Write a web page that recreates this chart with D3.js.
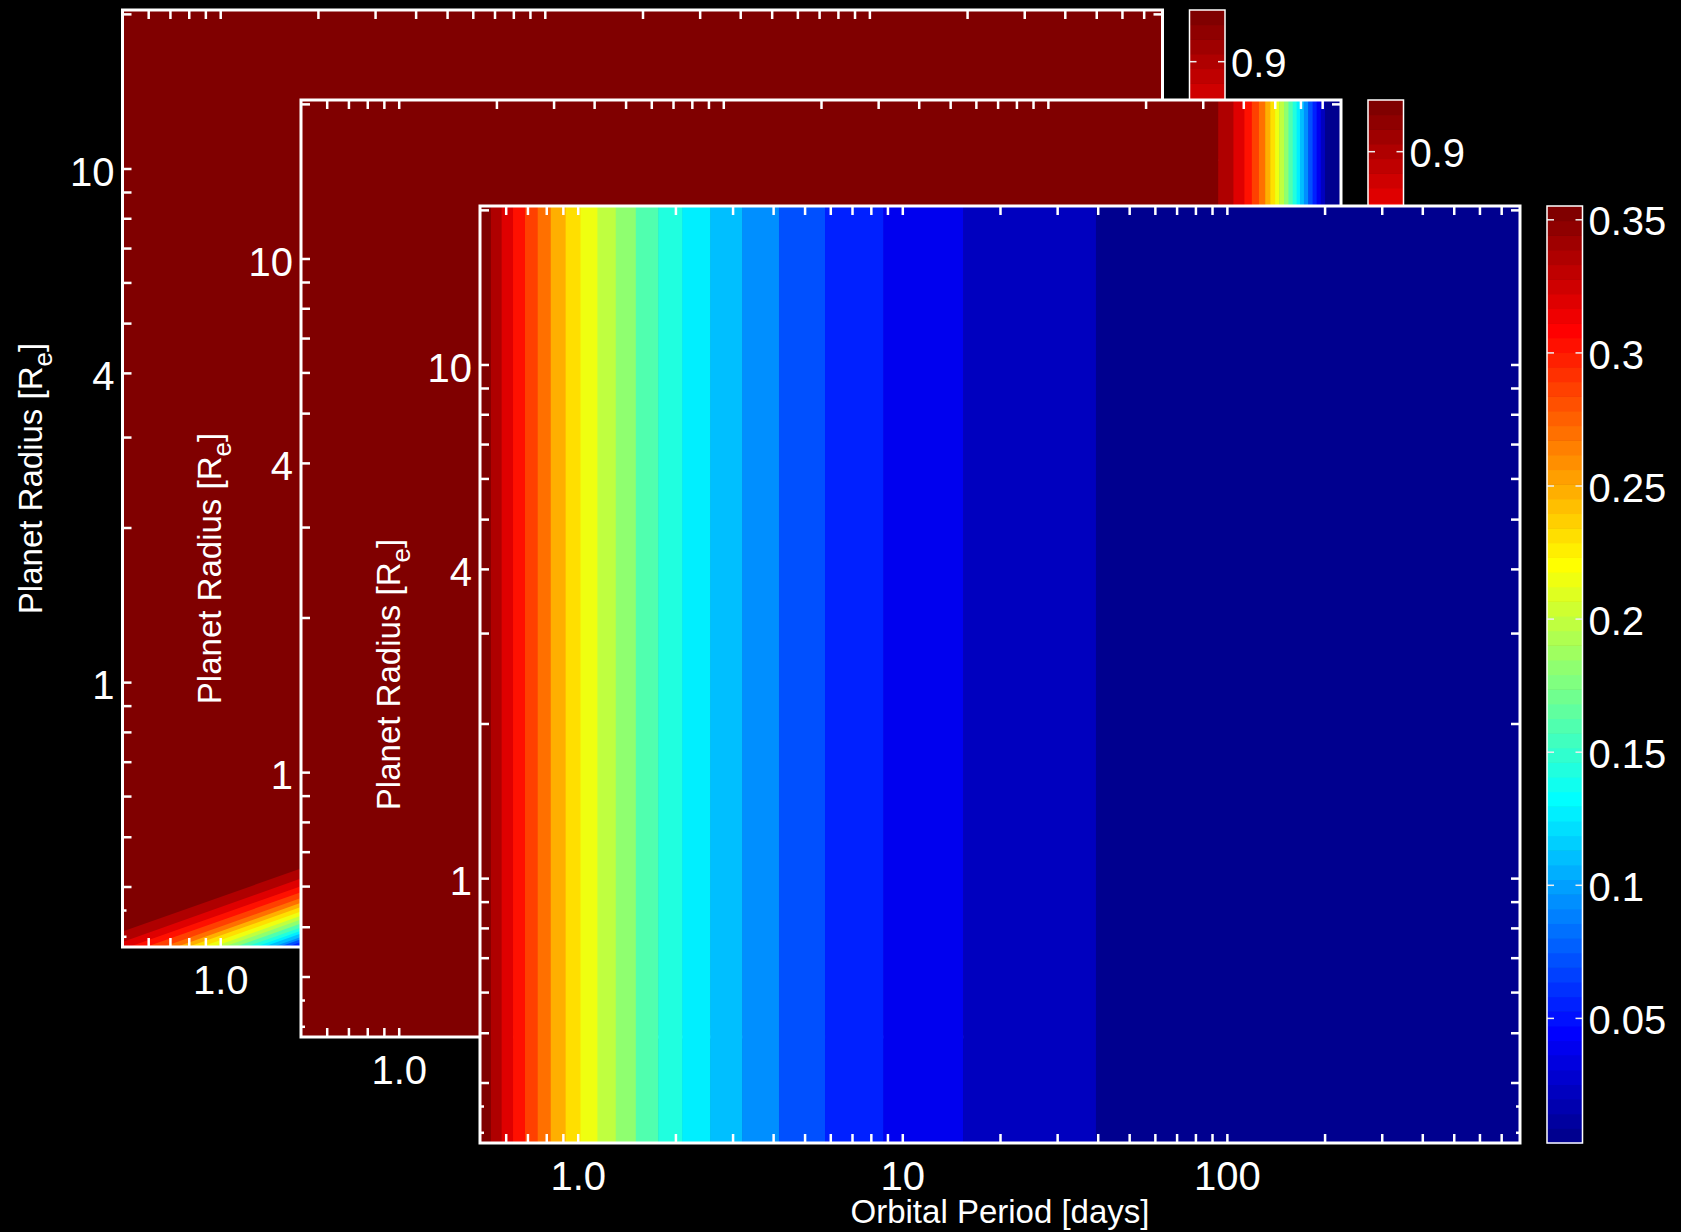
<!DOCTYPE html>
<html>
<head>
<meta charset="utf-8">
<script src="https://cdn.jsdelivr.net/npm/d3@7"></script>
<style>
  html, body { margin: 0; padding: 0; background: #000; }
  svg { display: block; }
</style>
</head>
<body>
<svg id="chart" width="1681" height="1232"></svg>
<script>
// ---------------- data ----------------
// shared axes
const periodDomain = [0.5, 800];
const radiusDomain = [0.305, 20.35];
const periodTickValues = [1, 10, 100];
const periodTickLabels = ["1.0", "10", "100"];
const periodMinorTicks = [0.6, 0.7, 0.8, 0.9, 2, 3, 4, 5, 6, 7, 8, 9,
  20, 30, 40, 50, 60, 70, 80, 90, 200, 300, 400, 500, 600, 700];
const radiusTickValues = [1, 4, 10];
const radiusTickLabels = ["1", "4", "10"];
const radiusMinorTicks = [0.4, 0.5, 0.6, 0.7, 0.8, 0.9, 2, 3, 5, 6, 7, 8, 9, 20];
const radiusShortTicks = [0.32, 0.36];

// detection efficiency (back panel): filled contours, straight in log-log,
// each boundary given by its radius at the two periods below
const detectionContourPeriods = [0.5, 1.8];
const detectionRadiusAtShort = [0.327, 0.312, 0.302, 0.294, 0.286, 0.280, 0.275, 0.269, 0.264,
  0.260, 0.255, 0.251, 0.247, 0.244, 0.241, 0.238, 0.235];
const detectionRadiusAtLong = [0.435, 0.416, 0.402, 0.391, 0.381, 0.373, 0.366, 0.359, 0.352,
  0.346, 0.340, 0.334, 0.329, 0.325, 0.320, 0.317, 0.313];
const detectionBandValues = [0.952, 0.9044, 0.8568, 0.8092, 0.7616, 0.714, 0.6664, 0.6188, 0.5712,
  0.5236, 0.476, 0.4284, 0.3808, 0.3332, 0.2856, 0.238, 0.1904, 0.1428];
const detectionRange = [0, 0.952];

// window function (middle panel): bands in orbital period only
const windowBandEdges = [335, 373, 403, 425, 447, 467, 484, 501, 516, 534, 551, 568, 584, 598,
  615, 634, 654, 673, 693, 714];
const windowBandValues = [0.952, 0.9044, 0.8568, 0.8092, 0.7616, 0.714, 0.6664, 0.6188, 0.5712,
  0.5236, 0.476, 0.4284, 0.3808, 0.3332, 0.2856, 0.238, 0.1904, 0.1428, 0.0952, 0.0476, 0];
const windowRange = [0, 0.952];

// geometric transit probability (front panel): bands in orbital period only
const transitBandEdges = [0.54, 0.583, 0.632, 0.688, 0.753, 0.826, 0.918, 1.02, 1.15, 1.31, 1.51,
  1.77, 2.10, 2.56, 3.21, 4.17, 5.78, 8.74, 15.4, 39.5];
const transitBandValues = [0.355, 0.3374, 0.3198, 0.3022, 0.2846, 0.2670, 0.2494, 0.2318, 0.2142,
  0.1966, 0.1790, 0.1614, 0.1438, 0.1262, 0.1086, 0.0910, 0.0734, 0.0558, 0.0382, 0.0206, 0.0030];
const transitRange = [0.003, 0.355];

// colour bar ticks
const efficiencyBarTicks = [0.1, 0.2, 0.3, 0.4, 0.5, 0.6, 0.7, 0.8, 0.9];
const efficiencyBarLabels = ["0.1", "0.2", "0.3", "0.4", "0.5", "0.6", "0.7", "0.8", "0.9"];
const transitBarTicks = [0.05, 0.1, 0.15, 0.2, 0.25, 0.3, 0.35];
const transitBarLabels = ["0.05", "0.1", "0.15", "0.2", "0.25", "0.3", "0.35"];

// ---------------- layout ----------------
const W = 1040, H = 937;
const TICK = 9;
const FONT = "'Liberation Sans', Arial, Helvetica, sans-serif";
const BAR_OFFSET = 1067, BAR_W = 35.5, BAR_STEPS = 64;

// 64-entry jet colour table
function jetTable(m) {
  const n = Math.ceil(m / 4);
  const u = [];
  for (let i = 1; i <= n; i++) u.push(i / n);
  for (let i = 0; i < n - 1; i++) u.push(1);
  for (let i = n; i >= 1; i--) u.push(i / n);
  const gOff = Math.ceil(n / 2) - (m % 4 === 1 ? 1 : 0);
  const J = Array.from({length: m}, () => [0, 0, 0]);
  u.forEach((val, j) => {
    const g = gOff + j + 1, r = g + n, b = g - n;
    if (g >= 1 && g <= m) J[g - 1][1] = val;
    if (r >= 1 && r <= m) J[r - 1][0] = val;
    if (b >= 1 && b <= m) J[b - 1][2] = val;
  });
  return J.map(c => d3.rgb(Math.round(c[0] * 255), Math.round(c[1] * 255), Math.round(c[2] * 255)).formatHex());
}
const jet = jetTable(BAR_STEPS);

const svg = d3.select("#chart");
svg.append("rect").attr("width", 1681).attr("height", 1232).attr("fill", "#000");

// the two rear plots sit behind the next one, so only their uncovered labels are written
const layers = [
  { id: "detection", x0: 122.5, y0: 10, range: detectionRange, front: false,
    barTicks: efficiencyBarTicks, barLabels: efficiencyBarLabels },
  { id: "window", x0: 301, y0: 100, range: windowRange, front: false,
    barTicks: efficiencyBarTicks, barLabels: efficiencyBarLabels },
  { id: "transit", x0: 480, y0: 206, range: transitRange, front: true,
    barTicks: transitBarTicks, barLabels: transitBarLabels }
];

function styleAxis(sel, fontSize) {
  sel.select(".domain").remove();
  sel.selectAll(".tick line").attr("stroke", "#fff").attr("stroke-width", 2.5);
  sel.selectAll(".tick text").attr("fill", "#fff")
    .style("font-family", FONT).style("font-size", fontSize + "px");
}

function drawVerticalBands(g, x, edges, values, color) {
  const bounds = [periodDomain[0], ...edges, periodDomain[1]];
  g.selectAll("rect.band").data(values).join("rect")
    .attr("class", "band")
    .attr("x", (d, i) => x(bounds[i]))
    .attr("y", 0)
    .attr("width", (d, i) => x(bounds[i + 1]) - x(bounds[i]) + 0.6)
    .attr("height", H)
    .attr("fill", d => color(d));
}

function drawContourBands(g, x, y, color) {
  g.append("rect").attr("width", W).attr("height", H).attr("fill", color(detectionBandValues[0]));
  const area = d3.area().x(d => x(d.p)).y0(H).y1(d => y(d.r));
  detectionRadiusAtShort.forEach((r0, k) => {
    const pts = [
      { p: detectionContourPeriods[0], r: r0 },
      { p: detectionContourPeriods[1], r: detectionRadiusAtLong[k] }
    ];
    g.append("path").attr("d", area(pts)).attr("fill", color(detectionBandValues[k + 1]));
  });
}

layers.forEach(L => {
  const g = svg.append("g").attr("transform", `translate(${L.x0},${L.y0})`);
  const x = d3.scaleLog().domain(periodDomain).range([0, W]);
  const y = d3.scaleLog().domain(radiusDomain).range([H, 0]);
  const color = d3.scaleQuantize().domain(L.range).range(jet);

  // plot area
  const clipId = "clip-" + L.id;
  g.append("clipPath").attr("id", clipId).append("rect").attr("width", W).attr("height", H);
  const plot = g.append("g").attr("clip-path", `url(#${clipId})`);
  if (L.id === "detection") drawContourBands(plot, x, y, color);
  if (L.id === "window") drawVerticalBands(plot, x, windowBandEdges, windowBandValues, color);
  if (L.id === "transit") drawVerticalBands(plot, x, transitBandEdges, transitBandValues, color);

  // axes, ticks pointing inward on all four sides
  const allPeriod = periodTickValues.concat(periodMinorTicks);
  const allRadius = radiusTickValues.concat(radiusMinorTicks);
  const periodLabel = d => {
    const i = periodTickValues.indexOf(d);
    if (i < 0) return "";
    return (L.front || d === 1) ? periodTickLabels[i] : "";
  };
  const bottom = g.append("g").attr("transform", `translate(0,${H})`)
    .call(d3.axisBottom(x).tickValues(allPeriod).tickSize(-TICK).tickPadding(19).tickFormat(periodLabel));
  styleAxis(bottom, 40);
  bottom.selectAll(".tick text").filter(function () { return this.textContent === ""; }).remove();
  const top = g.append("g")
    .call(d3.axisTop(x).tickValues(allPeriod).tickSize(-TICK).tickFormat(() => ""));
  styleAxis(top, 40);
  top.selectAll(".tick text").remove();
  const left = g.append("g")
    .call(d3.axisLeft(y).tickValues(allRadius).tickSize(-TICK).tickPadding(8)
      .tickFormat(d => { const i = radiusTickValues.indexOf(d); return i >= 0 ? radiusTickLabels[i] : ""; }));
  styleAxis(left, 40);
  left.selectAll(".tick text").attr("dy", "0.42em");
  left.selectAll(".tick text").filter(function () { return this.textContent === ""; }).remove();
  const right = g.append("g").attr("transform", `translate(${W},0)`)
    .call(d3.axisRight(y).tickValues(allRadius).tickSize(-TICK).tickFormat(() => ""));
  styleAxis(right, 40);
  right.selectAll(".tick text").remove();
  // short ticks near the lower edge
  [g.append("g").call(d3.axisLeft(y).tickValues(radiusShortTicks).tickSize(-4).tickFormat(() => "")),
   g.append("g").attr("transform", `translate(${W},0)`)
     .call(d3.axisRight(y).tickValues(radiusShortTicks).tickSize(-4).tickFormat(() => ""))]
    .forEach(a => { styleAxis(a, 40); a.selectAll(".tick text").remove(); });

  // frame
  g.append("rect").attr("width", W).attr("height", H)
    .attr("fill", "none").attr("stroke", "#fff").attr("stroke-width", 3);

  // axis titles
  const yTitle = g.append("text")
    .attr("transform", `translate(-80.5,${H / 2}) rotate(-90)`)
    .attr("text-anchor", "middle").attr("fill", "#fff")
    .style("font-family", FONT).style("font-size", "33px");
  yTitle.append("tspan").text("Planet Radius [R");
  yTitle.append("tspan").attr("dy", 10).style("font-size", "26px").text("e");
  yTitle.append("tspan").attr("dy", -10).text("]");

  if (L.front) {
    g.append("text")
      .attr("x", W / 2).attr("y", H + 80)
      .attr("text-anchor", "middle").attr("fill", "#fff")
      .style("font-family", FONT).style("font-size", "33px")
      .text("Orbital Period [days]");
  }

  // colour bar
  const cb = g.append("g").attr("transform", `translate(${BAR_OFFSET},0)`);
  const cy = d3.scaleLinear().domain(L.range).range([H, 0]);
  const step = (L.range[1] - L.range[0]) / BAR_STEPS;
  cb.selectAll("rect.step").data(d3.range(BAR_STEPS)).join("rect")
    .attr("class", "step")
    .attr("x", 0).attr("width", BAR_W)
    .attr("y", i => cy(L.range[0] + (i + 1) * step))
    .attr("height", i => cy(L.range[0] + i * step) - cy(L.range[0] + (i + 1) * step) + 0.6)
    .attr("fill", i => color(L.range[0] + (i + 0.5) * step));
  const barLabel = d => {
    const lab = L.barLabels[L.barTicks.indexOf(d)];
    return (L.front || d === L.barTicks[L.barTicks.length - 1]) ? lab : "";
  };
  const cbRight = cb.append("g").attr("transform", `translate(${BAR_W},0)`)
    .call(d3.axisRight(cy).tickValues(L.barTicks).tickSize(-7).tickPadding(6).tickFormat(barLabel));
  styleAxis(cbRight, 40);
  cbRight.selectAll(".tick line").attr("stroke-width", 1.5).attr("stroke", "#eee");
  cbRight.selectAll(".tick text").attr("dy", "0.39em");
  cbRight.selectAll(".tick text").filter(function () { return this.textContent === ""; }).remove();
  const cbLeft = cb.append("g")
    .call(d3.axisLeft(cy).tickValues(L.barTicks).tickSize(-7).tickFormat(() => ""));
  styleAxis(cbLeft, 40);
  cbLeft.selectAll(".tick text").remove();
  cbLeft.selectAll(".tick line").attr("stroke-width", 1.5).attr("stroke", "#eee");
  cb.append("rect").attr("width", BAR_W).attr("height", H)
    .attr("fill", "none").attr("stroke", "#fff").attr("stroke-width", 1.5);
});
</script>
</body>
</html>
